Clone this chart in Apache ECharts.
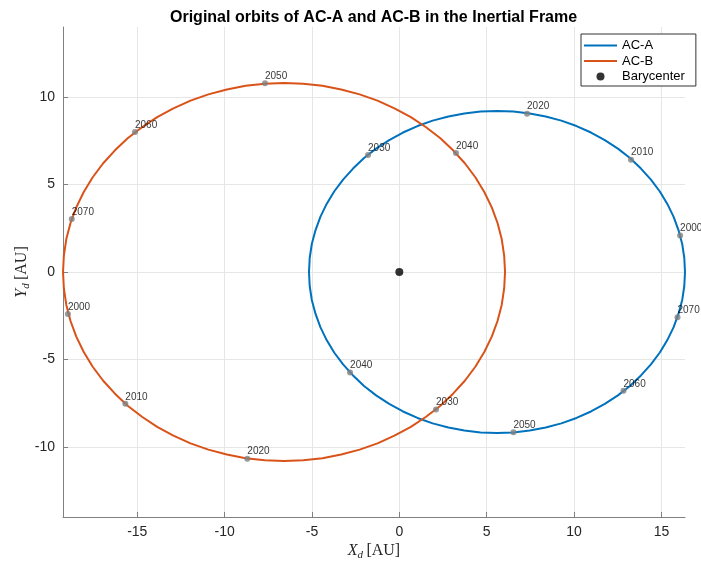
<!DOCTYPE html>
<html>
<head>
<meta charset="utf-8">
<script src="https://cdn.jsdelivr.net/npm/echarts@6/dist/echarts.min.js"></script>
<style>
  html, body { margin: 0; padding: 0; background: #fff; }
  #chart { width: 701px; height: 566px; }
</style>
</head>
<body>
<div id="chart"></div>
<script>
// Orbit paths (x, y in AU), sampled every 5 degrees around each ellipse
const orbitA = [
  [16.35, 0], [16.31, 0.80], [16.19, 1.60], [15.98, 2.38], [15.70, 3.15], [15.34, 3.89],
  [14.91, 4.60], [14.40, 5.28], [13.83, 5.91], [13.20, 6.51], [12.51, 7.05], [11.76, 7.54],
  [10.97, 7.97], [10.14, 8.34], [9.27, 8.65], [8.38, 8.89], [7.46, 9.06], [6.53, 9.17],
  [5.59, 9.20], [4.65, 9.17], [3.72, 9.06], [2.81, 8.89], [1.91, 8.65], [1.04, 8.34],
  [0.21, 7.97], [-0.58, 7.54], [-1.33, 7.05], [-2.02, 6.51], [-2.65, 5.91], [-3.22, 5.28],
  [-3.73, 4.60], [-4.16, 3.89], [-4.52, 3.15], [-4.80, 2.38], [-5.01, 1.60], [-5.13, 0.80],
  [-5.17, 0],
  [-5.13, -0.80], [-5.01, -1.60], [-4.80, -2.38], [-4.52, -3.15], [-4.16, -3.89], [-3.73, -4.60],
  [-3.22, -5.28], [-2.65, -5.91], [-2.02, -6.51], [-1.33, -7.05], [-0.58, -7.54], [0.21, -7.97],
  [1.04, -8.34], [1.91, -8.65], [2.81, -8.89], [3.72, -9.06], [4.65, -9.17], [5.59, -9.20],
  [6.53, -9.17], [7.46, -9.06], [8.38, -8.89], [9.27, -8.65], [10.14, -8.34], [10.97, -7.97],
  [11.76, -7.54], [12.51, -7.05], [13.20, -6.51], [13.83, -5.91], [14.40, -5.28], [14.91, -4.60],
  [15.34, -3.89], [15.70, -3.15], [15.98, -2.38], [16.19, -1.60], [16.31, -0.80], [16.35, 0]
];
const orbitB = [
  [6.05, 0], [6.00, 0.94], [5.86, 1.88], [5.62, 2.80], [5.29, 3.69], [4.87, 4.56],
  [4.36, 5.40], [3.76, 6.20], [3.09, 6.94], [2.35, 7.64], [1.53, 8.27], [0.66, 8.85],
  [-0.28, 9.35], [-1.25, 9.79], [-2.27, 10.15], [-3.33, 10.43], [-4.40, 10.64], [-5.50, 10.76],
  [-6.60, 10.80], [-7.70, 10.76], [-8.80, 10.64], [-9.87, 10.43], [-10.93, 10.15], [-11.95, 9.79],
  [-12.93, 9.35], [-13.86, 8.85], [-14.73, 8.27], [-15.55, 7.64], [-16.29, 6.94], [-16.96, 6.20],
  [-17.56, 5.40], [-18.07, 4.56], [-18.49, 3.69], [-18.82, 2.80], [-19.06, 1.88], [-19.20, 0.94],
  [-19.25, 0],
  [-19.20, -0.94], [-19.06, -1.88], [-18.82, -2.80], [-18.49, -3.69], [-18.07, -4.56], [-17.56, -5.40],
  [-16.96, -6.20], [-16.29, -6.94], [-15.55, -7.64], [-14.73, -8.27], [-13.86, -8.85], [-12.93, -9.35],
  [-11.95, -9.79], [-10.93, -10.15], [-9.87, -10.43], [-8.80, -10.64], [-7.70, -10.76], [-6.60, -10.80],
  [-5.50, -10.76], [-4.40, -10.64], [-3.33, -10.43], [-2.27, -10.15], [-1.25, -9.79], [-0.28, -9.35],
  [0.66, -8.85], [1.53, -8.27], [2.35, -7.64], [3.09, -6.94], [3.76, -6.20], [4.36, -5.40],
  [4.87, -4.56], [5.29, -3.69], [5.62, -2.80], [5.86, -1.88], [6.00, -0.94], [6.05, 0]
];

// Decade positions along each orbit
const years = ['2000', '2010', '2020', '2030', '2040', '2050', '2060', '2070'];
const yearsA = [
  [16.07, 2.08], [13.26, 6.42], [7.31, 9.05], [-1.79, 6.68],
  [-2.82, -5.74], [6.53, -9.16], [12.83, -6.79], [15.92, -2.59]
];
const yearsB = [
  [-18.97, -2.40], [-15.68, -7.53], [-8.70, -10.67], [2.10, -7.85],
  [3.24, 6.80], [-7.69, 10.78], [-15.13, 8.00], [-18.75, 3.03]
];
const barycenter = [[0, 0]];

// Axis ticks
const xTicks = [-15, -10, -5, 0, 5, 10, 15];
const yTicks = [-10, -5, 0, 5, 10];

const blue = '#0072BD';
const orange = '#D95319';
const marker = '#808080';

const chart = echarts.init(document.getElementById('chart'), null, { renderer: 'canvas' });

function decadeSeries(points) {
  return {
    type: 'scatter',
    data: points.map((p, i) => ({ value: p, name: years[i] })),
    symbol: 'circle',
    symbolSize: 6,
    itemStyle: { color: marker },
    label: {
      show: true,
      formatter: (p) => p.name,
      position: [3, 1],
      align: 'left',
      verticalAlign: 'bottom',
      fontFamily: 'Liberation Sans, Arial, sans-serif',
      fontSize: 10,
      color: '#000'
    },
    clip: false,
    silent: true,
    z: 5
  };
}

const serif = 'Liberation Serif, DejaVu Serif, serif';
const nameRich = {
  i: { fontFamily: serif, fontStyle: 'italic', fontSize: 16, color: '#262626', lineHeight: 20 },
  s: { fontFamily: serif, fontStyle: 'italic', fontSize: 11, color: '#262626', verticalAlign: 'bottom', lineHeight: 12 },
  r: { fontFamily: serif, fontSize: 16, color: '#262626', lineHeight: 20 }
};

const axisCommon = {
  type: 'value',
  axisLine: { show: true, onZero: false, lineStyle: { color: '#808080', width: 1 } },
  axisTick: { show: true, inside: true, length: 5, lineStyle: { color: '#808080' } },
  splitLine: { show: true, lineStyle: { color: '#e6e6e6', width: 1 } },
  axisLabel: {
    fontFamily: 'Liberation Sans, Arial, sans-serif',
    fontSize: 14,
    color: '#262626',
    margin: 8
  }
};

// Thin bar used as the legend sample for the orbit lines
const lineIcon = 'path://M0,0 H33 V2 H0 Z';

chart.setOption({
  animation: false,
  backgroundColor: '#fff',
  title: {
    text: 'Original orbits of AC-A and AC-B in the Inertial Frame',
    left: 165,
    top: 5,
    textStyle: {
      fontFamily: 'Liberation Sans, Arial, sans-serif',
      fontSize: 16,
      fontWeight: 'bold',
      color: '#000'
    }
  },
  grid: { left: 63, right: 16, top: 27, bottom: 49, outerBoundsMode: 'none' },
  legend: {
    orient: 'vertical',
    left: 581,
    top: 34,
    padding: [5, 11, 3, 3],
    itemWidth: 33,
    itemHeight: 8,
    itemGap: 2.5,
    itemTextGap: 3,
    backgroundColor: '#fff',
    borderColor: '#333',
    borderWidth: 1,
    borderRadius: 0,
    textStyle: {
      fontFamily: 'Liberation Sans, Arial, sans-serif',
      fontSize: 13,
      lineHeight: 13,
      color: '#000'
    },
    data: [
      { name: 'AC-A', icon: lineIcon },
      { name: 'AC-B', icon: lineIcon },
      { name: 'Barycenter', icon: 'circle' }
    ]
  },
  xAxis: Object.assign({}, axisCommon, {
    min: -19.25,
    max: 16.35,
    axisTick: Object.assign({}, axisCommon.axisTick, { customValues: xTicks }),
    axisLabel: Object.assign({}, axisCommon.axisLabel, { customValues: xTicks }),
    name: '{i|X}{s|d} {r|[AU]}',
    nameLocation: 'middle',
    nameGap: 24,
    nameMoveOverlap: false,
    nameTextStyle: { rich: nameRich }
  }),
  yAxis: Object.assign({}, axisCommon, {
    min: -14,
    max: 14,
    axisTick: Object.assign({}, axisCommon.axisTick, { customValues: yTicks }),
    axisLabel: Object.assign({}, axisCommon.axisLabel, { customValues: yTicks }),
    name: '{i|Y}{s|d} {r|[AU]}',
    nameLocation: 'middle',
    nameGap: 31,
    nameMoveOverlap: false,
    nameTextStyle: { rich: nameRich }
  }),
  series: [
    {
      name: 'AC-A',
      type: 'line',
      data: orbitA,
      symbol: 'none',
      lineStyle: { color: blue, width: 2 },
      itemStyle: { color: blue },
      clip: false,
      z: 3
    },
    {
      name: 'AC-B',
      type: 'line',
      data: orbitB,
      symbol: 'none',
      lineStyle: { color: orange, width: 2 },
      itemStyle: { color: orange },
      clip: false,
      z: 3
    },
    decadeSeries(yearsA),
    decadeSeries(yearsB),
    {
      name: 'Barycenter',
      type: 'scatter',
      data: barycenter,
      symbol: 'circle',
      symbolSize: 8,
      itemStyle: { color: '#000' },
      z: 6
    }
  ]
});
</script>
</body>
</html>
